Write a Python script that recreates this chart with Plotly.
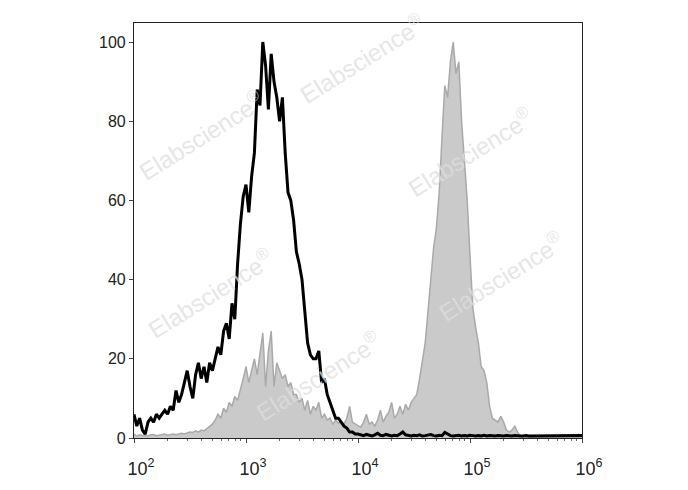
import numpy as np
import plotly.graph_objects as go

# channel grid: log10 intensity from 2 to 6, step 0.025
log_start = 2.0
log_step = 0.025

black_counts = [
    6, 3, 5, 2, 1, 4, 5, 4, 6, 5,
    6, 7, 6, 8, 7, 12, 9, 11, 14, 17,
    13, 10, 16, 19, 15, 18, 14, 19, 17, 20,
    23, 21, 27, 29, 25, 34, 30, 44, 54, 61,
    64, 57, 66, 72, 88, 84, 100, 94, 83, 97,
    90, 86, 80, 86, 72, 62, 60, 55, 47, 44,
    40, 32, 24, 21, 20, 20, 22, 14, 15, 11,
    9, 7, 5, 5, 4, 3, 2.5, 1.5, 1.5, 1,
    1, 0.8, 0.6, 0.9, 0.7, 0.5, 0.8, 1.2, 0.7, 0.6,
    0.9, 0.6, 0.5, 0.7, 0.6, 1.0, 1.5, 0.8, 0.6, 0.5,
    0.7, 0.6, 0.8, 0.5, 0.6, 0.7, 0.9, 0.6, 0.5, 0.7,
    0.6, 1.4, 0.9, 0.6, 0.5, 0.6, 0.7, 0.5, 0.6, 0.5,
    0.7, 0.6, 0.5, 0.6, 0.5, 0.7, 0.5, 0.6, 0.5, 0.5,
    0.6, 0.5, 0.5, 0.6, 0.5, 0.5, 0.6, 0.5, 0.5, 0.5,
    0.6, 0.5, 0.5, 0.5, 0.6, 0.5, 0.5, 0.5, 0.5, 0.6,
    0.5, 0.5, 0.5, 0.5, 0.5, 0.5, 0.5, 0.5, 0.5, 0.5,
    0.6,
]

grey_counts = [
    1, 0.5, 0.8, 0.6, 0.7, 0.5, 0.8, 0.9, 0.6, 0.7,
    0.8, 1, 0.7, 0.9, 1, 0.8, 1.1, 1.2, 1, 1.3,
    1.5, 1.4, 1.8, 1.5, 2, 1.8, 2.4, 2.8, 3.5, 4.5,
    6, 5, 7.5, 6.5, 9, 8, 10.5, 9.5, 12, 15,
    18, 14, 17, 20, 16, 22, 26.5, 13, 22, 27,
    13, 19, 17, 15, 16, 13, 14, 11, 11, 9,
    10, 7, 9.5, 6, 8, 7, 9, 5, 6, 4.5,
    5, 3.5, 4.5, 3.7, 4.2, 3.5, 5, 8, 4, 3.5,
    3, 2.7, 4, 6, 3.5, 4, 3, 4.5, 7, 4,
    5.5, 6.5, 9, 5, 6, 8, 6, 8.5, 7, 9,
    10, 11, 15, 19, 24, 32, 41, 48, 53, 62,
    76, 89, 86, 95, 100, 92, 95, 80, 70, 60,
    46, 33, 28, 24, 18, 17, 14, 8, 5, 4.5,
    4, 5.5, 4, 2, 1.5, 2, 3, 1.5, 0.5, 0.3,
    0.2, 0.2, 0.1, 0.1, 0.1, 0.1, 0.1, 0.1, 0.1, 0.1,
    0.1, 0.1, 0.1, 0.1, 0.1, 0.1, 0.1, 0.1, 0.1, 0.1,
    0.1,
]

x_tick_vals = [1e2, 1e3, 1e4, 1e5, 1e6]
x_tick_text = ["10<sup>2</sup>", "10<sup>3</sup>", "10<sup>4</sup>", "10<sup>5</sup>", "10<sup>6</sup>"]
y_tick_vals = [0, 20, 40, 60, 80, 100]

watermark_text = "Elabscience<sup>®</sup>"
# centres of the watermark stamps, as fractions of the plot area
watermark_pos = [(0.15, 0.73), (0.51, 0.915), (0.75, 0.69), (0.17, 0.35), (0.82, 0.39), (0.41, 0.15)]

n = len(black_counts)
xs = 10 ** (log_start + log_step * np.arange(n))

minor_vals = [m * 10 ** d for d in range(2, 6) for m in range(2, 10)]

fig = go.Figure()
fig.add_trace(go.Scatter(
    x=xs, y=grey_counts, mode="lines", fill="tozeroy",
    line=dict(color="#a9a9a9", width=1.5), fillcolor="#cacaca",
    showlegend=False, hoverinfo="skip"))
fig.add_trace(go.Scatter(
    x=xs, y=black_counts, mode="lines",
    line=dict(color="#000000", width=3),
    showlegend=False, hoverinfo="skip"))

for (px, py) in watermark_pos:
    fig.add_annotation(
        x=px, y=py, xref="paper", yref="paper", text=watermark_text,
        showarrow=False, textangle=-32, xanchor="center", yanchor="middle",
        font=dict(family="Liberation Sans", size=24, color="rgba(222,222,222,0.75)"))

fig.update_layout(
    width=688, height=490,
    margin=dict(l=126, r=114, t=15, b=60),
    paper_bgcolor="white", plot_bgcolor="white",
    font=dict(family="Liberation Sans", color="#222222"),
)
fig.update_xaxes(
    type="log", range=[2, 6],
    tickvals=x_tick_vals, ticktext=x_tick_text,
    tickfont=dict(size=18), ticks="outside", ticklen=4, tickcolor="#444",
    ticklabelstandoff=10, ticklabelshift=7,
    showgrid=False, zeroline=False,
    showline=True, linecolor="#222", linewidth=1.2, mirror=True,
    minor=dict(tickvals=minor_vals, ticks="outside", ticklen=2, tickcolor="#666", showgrid=False),
)
fig.update_yaxes(
    range=[0, 104.8],
    tickvals=y_tick_vals, tickfont=dict(size=16),
    ticks="outside", ticklen=4, tickcolor="#444",
    showgrid=False, zeroline=False,
    showline=True, linecolor="#222", linewidth=1.2, mirror=True,
)

fig.write_html("out.html")
